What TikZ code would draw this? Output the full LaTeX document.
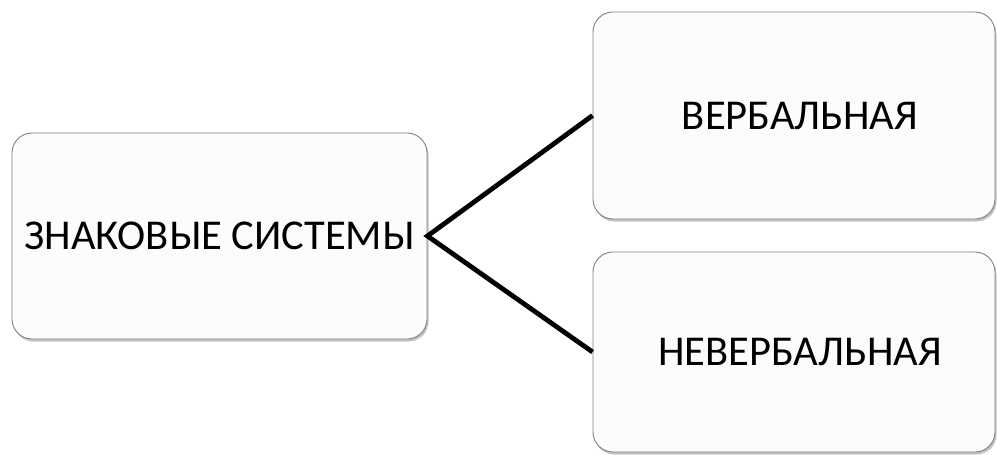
\documentclass[tikz,border=0pt]{standalone}
\usepackage{fontspec}
\setmainfont{Carlito}
\usetikzlibrary{shadows}
\begin{document}
\begin{tikzpicture}[x=1pt,y=-1pt,
  boxstyle/.style={draw=black!50, line width=0.9pt, fill=white!99!black, rounded corners=20pt,
    drop shadow={shadow xshift=1.5pt, shadow yshift=-2.5pt, opacity=0.4, fill=black!60},
    font=\fontsize{42.5}{50}\selectfont, inner sep=0pt},
  linkstyle/.style={line width=4.8pt, black}]
\useasboundingbox (0,0) rectangle (997,455);
\node[boxstyle, minimum width=415pt, minimum height=206pt] (a) at (219.5,236) {ЗНАКОВЫЕ СИСТЕМЫ};
\node[boxstyle, minimum width=402pt, minimum height=207pt] (b) at (794,115.5) {\hspace*{12pt}ВЕРБАЛЬНАЯ};
\node[boxstyle, minimum width=402pt, minimum height=200pt] (c) at (794,352) {\hspace*{12pt}НЕВЕРБАЛЬНАЯ};
\draw[linkstyle, line join=miter] (b.west) -- (a.east) -- (c.west);
\end{tikzpicture}
\end{document}
